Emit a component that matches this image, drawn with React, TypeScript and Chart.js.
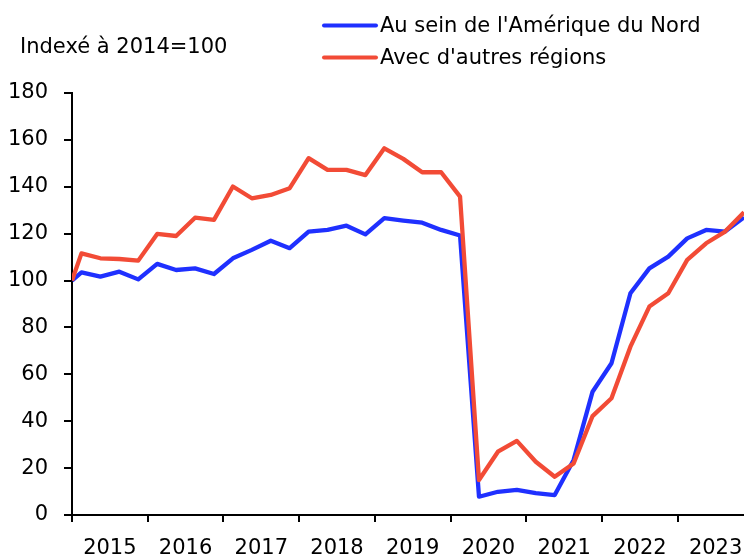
import React, { useEffect, useRef } from 'react';
import { Chart, registerables } from 'chart.js';

Chart.register(...registerables);

// ---- Data ----
const unitLabel = 'Indexé à 2014=100';

const periods = [
  '2014',
  '2015T1', '2015T2', '2015T3', '2015T4',
  '2016T1', '2016T2', '2016T3', '2016T4',
  '2017T1', '2017T2', '2017T3', '2017T4',
  '2018T1', '2018T2', '2018T3', '2018T4',
  '2019T1', '2019T2', '2019T3', '2019T4',
  '2020T1', '2020T2', '2020T3', '2020T4',
  '2021T1', '2021T2', '2021T3', '2021T4',
  '2022T1', '2022T2', '2022T3', '2022T4',
  '2023T1', '2023T2', '2023T3', '2023T4',
];

const northAmerica = [
  100,
  103.5, 101.7, 103.8, 100.5,
  107.1, 104.5, 105.2, 102.8,
  109.5, 113.1, 117.0, 113.8,
  120.9, 121.6, 123.4, 119.7,
  126.6, 125.6, 124.7, 121.6,
  119.2, 7.8, 9.9, 10.7,
  9.3, 8.5, 23.5, 52.6,
  64.7, 94.6, 105.2, 110.2,
  118.0, 121.6, 120.9, 127.0,
];

const otherRegions = [
  100,
  111.6, 109.5, 109.2, 108.5,
  119.9, 119.0, 126.8, 125.9,
  140.1, 135.1, 136.5, 139.4,
  152.2, 147.2, 147.2, 145.0,
  156.4, 151.9, 146.2, 146.2,
  135.8, 14.9, 27.0, 31.6,
  22.7, 16.3, 22.0, 42.2,
  49.8, 71.8, 88.9, 94.6,
  108.8, 115.9, 120.9, 129.1,
];

const seriesNames = ["Au sein de l'Amérique du Nord", "Avec d'autres régions"];
const seriesColors = ['#1f30ff', '#f24b36'];

const yearLabels = ['2015', '2016', '2017', '2018', '2019', '2020', '2021', '2022', '2023'];
const yTicks = [0, 20, 40, 60, 80, 100, 120, 140, 160, 180];

// annual base value sits at the end of its year; quarters at their mid-point
function periodToX(p: string): number {
  if (!p.includes('T')) return Number(p) + 1;
  const [y, q] = p.split('T');
  return Number(y) + (Number(q) - 0.5) / 4;
}

const FONT = '"DejaVu Sans", sans-serif';

const headerPlugin = {
  id: 'header',
  afterDraw(chart: any) {
    const ctx = chart.ctx;
    ctx.save();
    ctx.font = `21px ${FONT}`;
    ctx.fillStyle = '#000';
    ctx.textBaseline = 'alphabetic';
    ctx.textAlign = 'left';
    ctx.fillText(unitLabel, 20, 53);
    seriesNames.forEach((name, i) => {
      const y = 25.5 + i * 32;
      ctx.beginPath();
      ctx.strokeStyle = seriesColors[i];
      ctx.lineWidth = 4;
      ctx.lineCap = 'round';
      ctx.moveTo(324, y);
      ctx.lineTo(376, y);
      ctx.stroke();
      ctx.fillStyle = '#000';
      ctx.fillText(name, 380, y + 6.3);
    });
    ctx.restore();
  },
};

export default function App() {
  const ref = useRef<HTMLCanvasElement | null>(null);

  useEffect(() => {
    if (!ref.current) return;
    const xs = periods.map(periodToX);
    const chart = new Chart(ref.current, {
      type: 'line',
      data: {
        datasets: [
          {
            label: seriesNames[0],
            data: xs.map((x, i) => ({ x, y: northAmerica[i] })),
            borderColor: seriesColors[0],
            borderWidth: 4.3,
            pointRadius: 0,
            tension: 0,
            borderJoinStyle: 'round',
            order: 2,
          },
          {
            label: seriesNames[1],
            data: xs.map((x, i) => ({ x, y: otherRegions[i] })),
            borderColor: seriesColors[1],
            borderWidth: 4.3,
            pointRadius: 0,
            tension: 0,
            borderJoinStyle: 'round',
            order: 1,
          },
        ],
      },
      options: {
        animation: false,
        responsive: false,
        devicePixelRatio: 1,
        layout: { padding: { top: 93, right: 0, bottom: 0, left: 0 } },
        plugins: {
          legend: { display: false },
          tooltip: { enabled: false },
        },
        scales: {
          x: {
            type: 'linear',
            min: xs[0],
            max: xs[xs.length - 1],
            afterBuildTicks: (scale: any) => {
              scale.ticks = yearLabels.flatMap((y) => [
                { value: Number(y) },
                { value: Number(y) + 0.5 },
              ]);
            },
            afterFit: (scale: any) => {
              scale.height = 42;
              scale.paddingLeft = 0;
              scale.paddingRight = 0;
            },
            ticks: {
              autoSkip: false,
              maxRotation: 0,
              padding: 14,
              color: '#000',
              font: { family: FONT, size: 21 },
              callback: (_v: any, index: number, ticks: any[]) => {
                const v = ticks[index].value;
                return Number.isInteger(v) ? '' : String(Math.floor(v));
              },
            },
            grid: {
              drawOnChartArea: false,
              drawTicks: true,
              tickLength: 7,
              lineWidth: 2,
              color: (ctx: any) =>
                ctx.tick && Number.isInteger(ctx.tick.value) ? '#000' : 'rgba(0,0,0,0)',
            },
            border: { display: true, color: '#000', width: 2 },
          },
          y: {
            min: 0,
            max: 180,
            afterBuildTicks: (scale: any) => {
              scale.ticks = yTicks.map((v) => ({ value: v }));
            },
            afterFit: (scale: any) => {
              scale.width = 72;
            },
            ticks: {
              padding: 16,
              color: '#000',
              font: { family: FONT, size: 21 },
            },
            grid: {
              drawOnChartArea: false,
              drawTicks: true,
              tickLength: 8,
              lineWidth: 2,
              color: '#000',
            },
            border: { display: true, color: '#000', width: 2 },
          },
        },
      },
      plugins: [headerPlugin],
    });
    return () => chart.destroy();
  }, []);

  return (
    <div style={{ position: 'fixed', left: 0, top: 0, width: 744, height: 557, background: '#fff' }}>
      <canvas ref={ref} width={744} height={557} style={{ display: 'block' }} />
    </div>
  );
}
